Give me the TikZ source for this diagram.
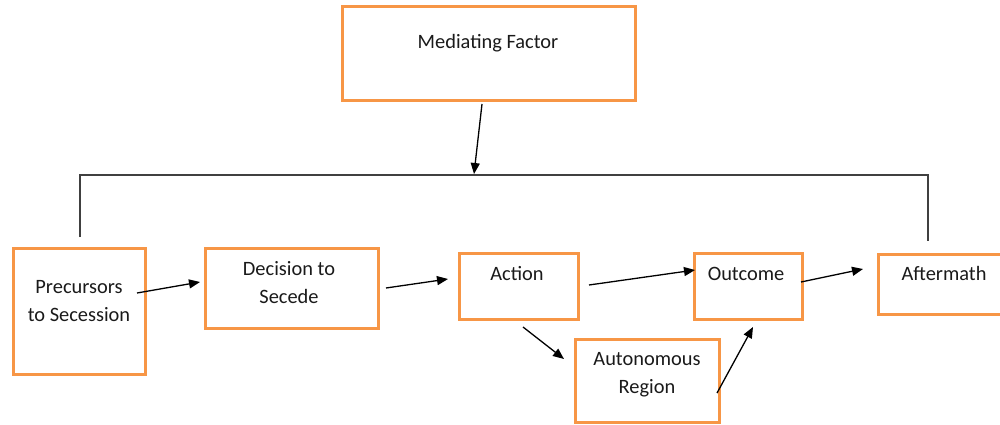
\documentclass[tikz,border=0pt]{standalone}
\usepackage{fontspec}
\setmainfont{Carlito}
\usetikzlibrary{arrows.meta}
\definecolor{boxorange}{HTML}{F79646}
\definecolor{txt}{HTML}{1A1A1A}
\definecolor{linegray}{HTML}{404040}
\tikzset{
  box/.style={draw=boxorange, line width=3pt, fill=white, rectangle, inner sep=0pt},
  lbl/.style={font=\fontsize{20.4}{28}\selectfont, text=txt, align=center, inner sep=0pt, anchor=base},
  arr/.style={draw=black, line width=1.3pt, -{Triangle[length=11pt,width=9pt]}},
  brk/.style={draw=linegray, line width=1.3pt}
}
\begin{document}
\begin{tikzpicture}[x=1pt,y=-1pt]
\useasboundingbox (0,0) rectangle (1000,425);
\clip (0,0) rectangle (1000,425);
% boxes
\node[box, minimum width=293pt, minimum height=94pt] (med) at (488.5,54) {};
\node[box, minimum width=132pt, minimum height=126pt] (pre) at (79,311) {};
\node[box, minimum width=173pt, minimum height=80pt] (dec) at (291.5,288) {};
\node[box, minimum width=119pt, minimum height=66pt] (act) at (518.5,286) {};
\node[box, minimum width=108pt, minimum height=66pt] (out) at (748,286) {};
\node[box, minimum width=140pt, minimum height=60pt] (aft) at (948,284) {};
\node[box, minimum width=144pt, minimum height=83pt] (aut) at (647,380.5) {};
% texts (base anchor = baseline of last line)
\node[lbl] (tmed) at (488,49) {Mediating Factor};
\node[lbl] (tpre) at (79,321) {Precursors\\to Secession};
\node[lbl] (tdec) at (289,303) {Decision to\\Secede};
\node[lbl] (tact) at (517,280) {Action};
\node[lbl] (tout) at (746,280) {Outcome};
\node[lbl] (taft) at (944,280) {Aftermath};
\node[lbl] (taut) at (647,393) {Autonomous\\Region};
% bracket
\coordinate (bl) at (80,237);
\coordinate (bla) at (80,175);
\coordinate (bra) at (928,175);
\coordinate (br) at (928,241);
\draw[brk] (bl) -- (bla) -- (bra) -- (br);
% arrow coordinates
\coordinate (m1) at (482,104); \coordinate (m2) at (474,174);
\coordinate (a1) at (137,293); \coordinate (a2) at (200,282);
\coordinate (b1) at (386,288); \coordinate (b2) at (448,279);
\coordinate (c1) at (589,285); \coordinate (c2) at (695,270);
\coordinate (d1) at (801,282); \coordinate (d2) at (863,269);
\coordinate (e1) at (523,327); \coordinate (e2) at (564,359);
\coordinate (f1) at (717,393); \coordinate (f2) at (753,327);
\draw[arr] (m1) -- (m2);
\draw[arr] (a1) -- (a2);
\draw[arr] (b1) -- (b2);
\draw[arr] (c1) -- (c2);
\draw[arr] (d1) -- (d2);
\draw[arr] (e1) -- (e2);
\draw[arr] (f1) -- (f2);
\end{tikzpicture}
\end{document}
